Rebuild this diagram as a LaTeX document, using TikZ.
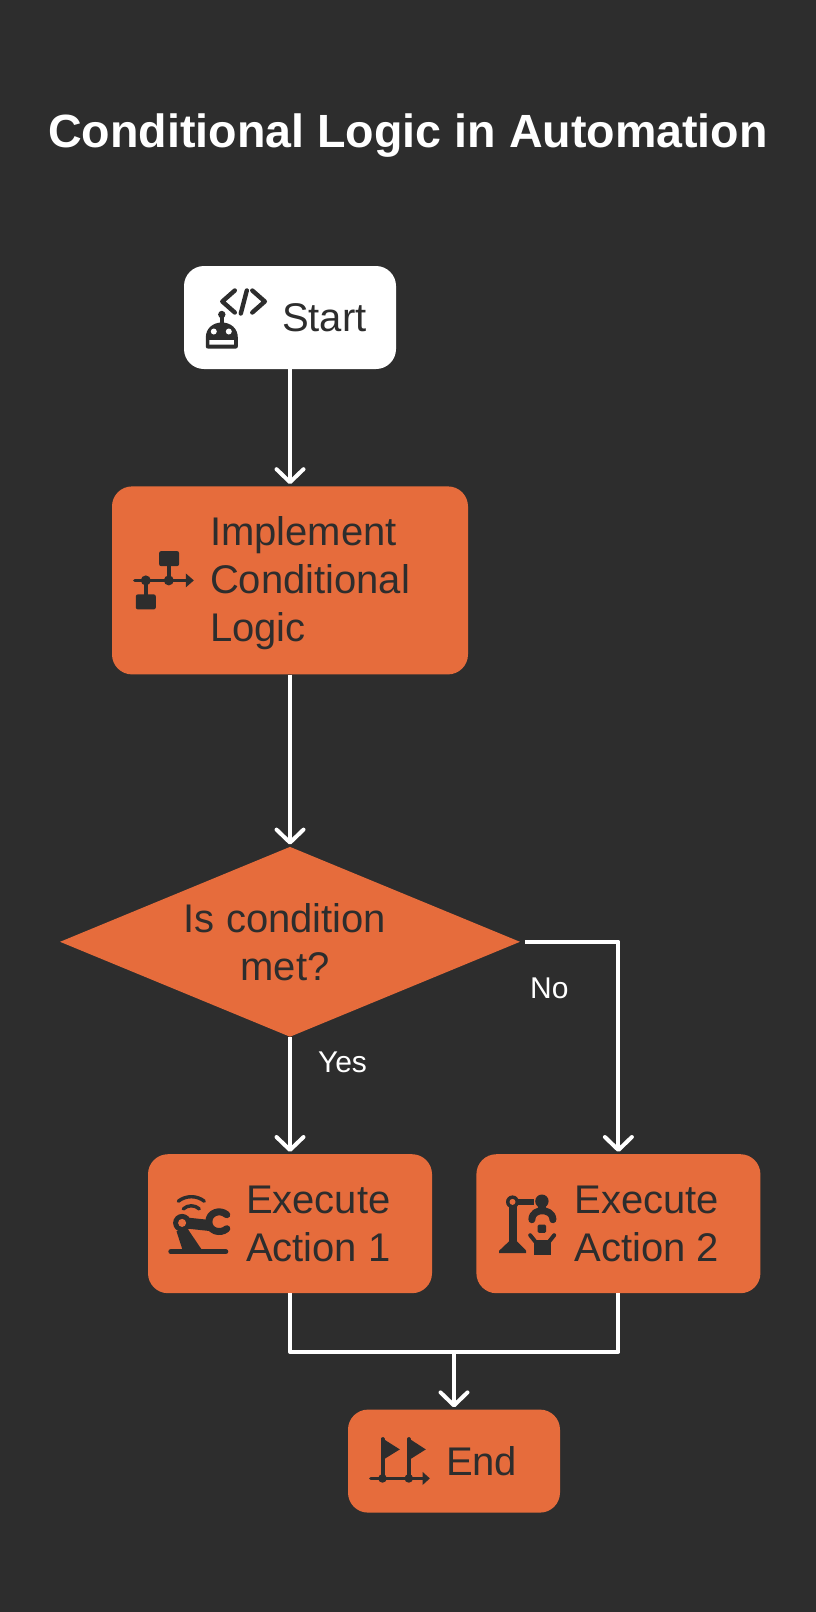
\documentclass[tikz,border=0pt]{standalone}
\usepackage{fontspec}
\setmainfont{Liberation Sans}
\usepackage{xcolor}
\usetikzlibrary{arrows.meta, positioning, shapes.geometric}
\definecolor{bgdark}{HTML}{2D2D2D}
\definecolor{boxorange}{HTML}{E66C3C}

\tikzset{
  icondraw/.style={bgdark, line width=3.4pt, line cap=round, line join=round},
  iconfill/.style={fill=bgdark, draw=none},
  pics/robotcode/.style={code={
    \fill[iconfill] (22,29) -- (22,20) .. controls (22,11) and (29,5) .. (38,5) .. controls (47,5) and (54,11) .. (54,20) -- (54,29) .. controls (54,30.5) and (53,31) .. (52,31) -- (24,31) .. controls (23,31) and (22,30.5) .. (22,29) -- cycle;
    \draw[icondraw] (38,-3) -- (38,6);
    \fill[iconfill] (38,-3) circle (3.7);
    \fill[white] (30,14) circle (3) (45,14) circle (3) (25.5,22.5) rectangle (50,27);
    \draw[icondraw, line width=4.4pt] (51,-27) -- (38.5,-16) -- (51,-5);
    \draw[icondraw, line width=4.4pt] (63,-27) -- (57,-4);
    \draw[icondraw, line width=4.4pt] (68.5,-27) -- (81,-16) -- (68.5,-5);
  }},
  pics/logicflow/.style={code={
    \draw[icondraw] (23,0) -- (76,0);
    \fill[iconfill] (74,-7) -- (82,0) -- (74,7) -- cycle;
    \fill[iconfill] (34,0) circle (5) (57,0) circle (5);
    \draw[icondraw] (57,-15) -- (57,0) (34,0) -- (34,15);
    \fill[iconfill, rounded corners=2pt] (47.3,-29.3) rectangle (67.3,-14.3);
    \fill[iconfill, rounded corners=2pt] (24,14) rectangle (44,29);
  }},
  pics/robotwrench/.style={code={
    \draw[icondraw, line width=5pt] (23,28) -- (78,28);
    \fill[iconfill] (28.7,7.5) -- (35.3,28) -- (55.3,28) -- (40.3,5.8) -- cycle;
    \draw[icondraw, line width=11pt, line cap=butt] (36,-1) -- (64,2);
    \draw[icondraw, line width=7pt] (79,-9) .. controls (72,-15) and (61,-11) .. (61,-2) .. controls (61,7) and (72,11) .. (79,5);
    \fill[iconfill] (34.3,-0.8) circle (9);
    \fill[boxorange] (34.3,-0.8) circle (4);
    \draw[icondraw] (30.5,-22.5) .. controls (38,-28.5) and (49,-28.5) .. (56.5,-22.5);
    \draw[icondraw] (35.5,-14.8) .. controls (40,-19) and (47,-19) .. (51.5,-14.8);
  }},
  pics/robotlock/.style={code={
    \fill[iconfill] (33,-18) rectangle (40.7,18);
    \fill[iconfill] (33,17.5) -- (23,27) -- (23,29.5) -- (50,29.5) -- (50,27) -- (40.7,17.5) -- cycle;
    \fill[iconfill] (38,-25) rectangle (58,-19);
    \fill[iconfill] (36.3,-21.8) circle (6.5);
    \fill[boxorange] (36.3,-21.8) circle (3);
    \fill[iconfill] (65.7,-22.5) circle (6.7);
    \fill[iconfill] (61.5,-20) rectangle (70,-12);
    \draw[icondraw, line width=7pt] (55.7,-4) .. controls (55.7,-11) and (62,-13) .. (66,-13) .. controls (70,-13) and (76.7,-11) .. (76.7,-4);
    \fill[iconfill, rounded corners=1.5pt] (61.3,0.8) rectangle (70,9.2);
    \fill[iconfill] (57.3,15.8) rectangle (74.7,30.8);
    \draw[icondraw, line width=4pt] (54,11.5) -- (60,19) (78,11.5) -- (72,19);
  }},
  pics/twoflags/.style={code={
    \draw[icondraw] (23,17.3) -- (78,17.3);
    \fill[iconfill] (74.7,10.7) -- (82,17.3) -- (74.7,24) -- cycle;
    \draw[icondraw, line width=4pt] (34.7,-22) -- (34.7,17.3) (61,-22) -- (61,17.3);
    \fill[iconfill] (34.7,17.3) circle (4.3) (61,17.3) circle (4.3);
    \fill[iconfill] (34.7,-22.7) -- (52,-11.7) -- (34.7,-1) -- cycle;
    \fill[iconfill] (61,-22.7) -- (78,-11.7) -- (61,-1) -- cycle;
  }}
}

\begin{document}
\begin{tikzpicture}[
  x=1pt, y=-1pt,
  node distance=117pt and 44pt,
  flowbox/.style={draw=none, fill=boxorange, rounded corners=20pt},
  boxtext/.style={text=bgdark, inner sep=0pt, align=left, font=\fontsize{40}{48}\selectfont},
  edgetext/.style={text=white, inner sep=0pt, font=\fontsize{30}{36}\selectfont},
  line/.style={white, line width=4pt, line join=round},
  arr/.style={line, -{Straight Barb[length=13pt, width=27pt, round]}, shorten >=2pt}
]
\useasboundingbox (0,0) rectangle (816,1612);
\fill[bgdark] (0,0) rectangle (816,1612);

\node[text=white, font=\bfseries\fontsize{46.6}{56}\selectfont] (title) at (408,136) {Conditional Logic in Automation};

\node[flowbox, fill=white, minimum width=212pt, minimum height=103pt] (start) at (290,317.5) {};
\node[flowbox, below=of start, minimum width=356pt, minimum height=188pt] (impl) {};
\node[flowbox, below=172pt of impl, diamond, shape aspect=2.42, rounded corners=0pt, minimum width=460pt, minimum height=190pt, inner sep=0pt, text=bgdark, align=center, font=\fontsize{40}{48}\selectfont] (cond) {Is condition\hspace*{10pt}\\met?\hspace*{10pt}};
\node[flowbox, below=of cond, minimum width=284pt, minimum height=139pt] (act1) {};
\node[flowbox, right=of act1, minimum width=284pt, minimum height=139pt] (act2) {};
\node[flowbox, below=116pt of act1, xshift=164pt, minimum width=212pt, minimum height=103pt] (finish) {};
\coordinate[above=57.5pt of finish] (merge);

% box texts
\node[boxtext, right=98pt of start.west] (starttext) {Start};
\node[boxtext, right=98pt of impl.west, yshift=-3pt] (impltext) {Implement\\Conditional\\Logic};
\node[boxtext, right=98pt of act1.west] (act1text) {Execute\\Action 1};
\node[boxtext, right=98pt of act2.west] (act2text) {Execute\\Action 2};
\node[boxtext, right=98pt of finish.west] (finishtext) {End};

% icons
\pic at (start.west) {robotcode};
\pic at (impl.west) {logicflow};
\pic at (act1.west) {robotwrench};
\pic at (act2.west) {robotlock};
\pic at (finish.west) {twoflags};

\draw[arr] (start) -- (impl);
\draw[arr] (impl) -- (cond);
\draw[arr] (cond) -- node[edgetext, right=26pt, yshift=33.5pt] (yes) {Yes} (act1);
\draw[arr, shorten <=5pt] (cond.east) -| node[edgetext, pos=0.12, below=34pt, xshift=5.5pt] (no) {No} (act2.north);
\draw[line] (act1.south) |- (merge);
\draw[line] (act2.south) |- (merge);
\draw[arr] (merge) -- (finish);
\end{tikzpicture}
\end{document}
